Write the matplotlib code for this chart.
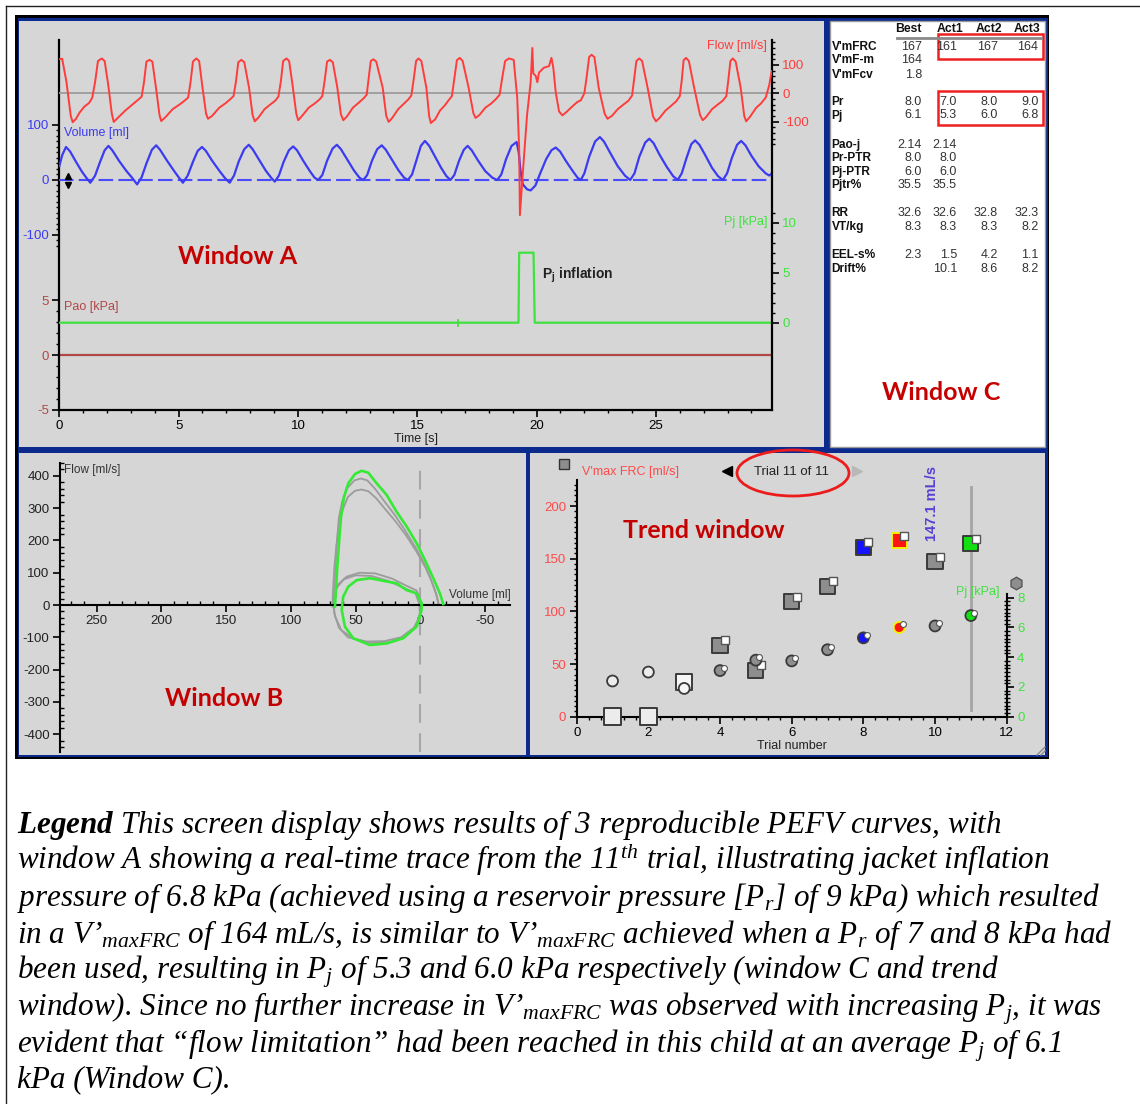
import numpy as np
import matplotlib
matplotlib.use("Agg")
import matplotlib.pyplot as plt
from matplotlib import transforms, font_manager
from matplotlib.patches import Rectangle, Ellipse

# ---------------------------------------------------------------- fonts
_names = {f.name for f in font_manager.fontManager.ttflist}
SANS = "Liberation Sans"
NARROW = "Liberation Sans Narrow" if "Liberation Sans Narrow" in _names else "Liberation Sans"
SERIF = "Liberation Serif"
HEAD = "Lato"
plt.rcParams["font.family"] = [SANS, "DejaVu Sans"]
plt.rcParams["axes.unicode_minus"] = False
plt.rcParams["mathtext.fontset"] = "custom"
plt.rcParams["mathtext.rm"] = "Liberation Serif:italic"
plt.rcParams["mathtext.it"] = "Liberation Serif:italic"
plt.rcParams["mathtext.bf"] = "Liberation Serif:italic:bold"
plt.rcParams["mathtext.sf"] = "Liberation Sans:bold"

# ---------------------------------------------------------------- data
# Window A: real-time traces of trial 11
T_END = 29.85
flow_t = [0.00, 0.12, 0.30, 0.48, 0.56, 0.70, 0.85, 1.05, 1.25, 1.38, 1.50, 1.62, 1.78, 1.90,
          2.05, 2.20, 2.28, 2.45, 2.75, 3.05, 3.30, 3.45, 3.55, 3.65, 3.78, 3.90,
          4.05, 4.20, 4.27, 4.45, 4.75, 5.05, 5.25, 5.40, 5.50, 5.60, 5.74, 5.86,
          6.00, 6.15, 6.23, 6.40, 6.70, 6.95, 7.15, 7.30, 7.40, 7.50, 7.63, 7.75,
          7.95, 8.10, 8.19, 8.35, 8.60, 8.85, 9.05, 9.18, 9.28, 9.38, 9.52, 9.63,
          9.78, 9.93, 10.01, 10.20, 10.45, 10.70, 10.90, 11.02, 11.12, 11.22, 11.34, 11.46,
          11.65, 11.80, 11.90, 12.05, 12.30, 12.55, 12.75, 12.88, 12.96, 13.05, 13.16, 13.28,
          13.55, 13.70, 13.80, 13.95, 14.20, 14.45, 14.62, 14.75, 14.85, 14.95, 15.05, 15.17,
          15.38, 15.50, 15.57, 15.75, 15.95, 16.15, 16.30, 16.45, 16.55, 16.66, 16.78, 16.90,
          17.15, 17.35, 17.44, 17.60, 17.85, 18.10, 18.30, 18.45, 18.55, 18.68, 18.84, 19.04,
          19.19, 19.27, 19.30, 19.40, 19.60, 19.75, 19.82, 19.86, 19.96, 20.03, 20.10, 20.30,
          20.52, 20.62, 20.70, 20.80, 20.94, 21.08,
          21.25, 21.50, 21.70, 21.85, 22.00, 22.10, 22.20, 22.30, 22.42,
          22.60, 22.85, 22.97, 23.15, 23.40, 23.65, 23.85, 24.00, 24.08, 24.18, 24.30, 24.42,
          24.65, 24.88, 25.00, 25.15, 25.40, 25.65, 25.85, 26.00, 26.08, 26.16, 26.26, 26.38,
          26.60, 26.85, 26.96, 27.10, 27.35, 27.60, 27.80, 27.95, 28.03, 28.12, 28.22, 28.34,
          28.55, 28.70, 28.78, 28.95, 29.20, 29.40, 29.60, 29.75, 29.85]
flow_v = [120, 122, 40, -80, -102, -90, -68, -47, -34, -16, 40, 114, 123, 114,
          30, -72, -101, -87, -62, -41, -23, -12, 40, 112, 118, 112,
          20, -77, -98, -84, -56, -39, -26, -15, 40, 112, 123, 114,
          20, -72, -90, -80, -51, -36, -22, -10, 40, 110, 118, 110,
          20, -77, -99, -85, -56, -39, -26, -12, 40, 114, 123, 114,
          25, -72, -95, -77, -51, -36, -22, -10, 45, 112, 118, 110,
          20, -74, -95, -82, -51, -33, -18, -5, 50, 114, 120, 112,
          20, -80, -101, -87, -56, -36, -22, -8, 50, 114, 123, 114,
          20, -82, -105, -92, -61, -43, -26, -10, 50, 117, 125, 114,
          20, -70, -87, -77, -51, -36, -20, -5, 50, 114, 123, 118,
          -18, -200, -430, -306, -76, 39, 160, 70, 62, 39, 73, 90,
          96, 125, 90, 4, -64, -78,
          -66, -46, -31, -25, 0, 60, 128, 136, 128,
          20, -72, -90, -80, -56, -39, -26, -8, 45, 114, 123, 114,
          20, -82, -99, -87, -61, -43, -28, -10, 45, 117, 125, 114,
          20, -77, -95, -84, -56, -39, -26, -10, 45, 114, 123, 112,
          20, -80, -99, -82, -51, -36, -15, 30, 79]

vol_t = [0.00, 0.12, 0.28, 0.45, 0.70, 0.95, 1.15, 1.30,
         1.50, 1.70, 1.90, 2.06, 2.22, 2.50, 2.80, 3.05, 3.26,
         3.45, 3.65, 3.88, 4.06, 4.22, 4.50, 4.80, 5.00, 5.18,
         5.38, 5.60, 5.80, 5.98, 6.14, 6.42, 6.72, 6.95, 7.14,
         7.32, 7.52, 7.75, 7.94, 8.10, 8.38, 8.65, 8.88, 9.03,
         9.20, 9.40, 9.62, 9.80, 9.96, 10.22, 10.50, 10.70, 10.85,
         11.02, 11.22, 11.45, 11.63, 11.80, 12.08, 12.35, 12.58, 12.74,
         12.90, 13.10, 13.32, 13.51, 13.68, 13.95, 14.22, 14.45, 14.61,
         14.78, 14.98, 15.15, 15.32, 15.50, 15.75, 16.00, 16.22, 16.39,
         16.55, 16.75, 16.95, 17.11, 17.28, 17.55, 17.85, 18.15, 18.35,
         18.52, 18.72, 18.95, 19.16, 19.25, 19.33, 19.42, 19.60, 19.75,
         19.95, 20.15, 20.40, 20.62, 20.80, 20.98, 21.25, 21.55, 21.72, 21.85,
         22.00, 22.20, 22.45, 22.65, 22.82, 23.10, 23.40, 23.70, 23.92,
         24.10, 24.30, 24.55, 24.72, 24.90, 25.15, 25.45, 25.72, 25.91,
         26.08, 26.28, 26.48, 26.64, 26.82, 27.08, 27.35, 27.60, 27.80,
         27.98, 28.18, 28.40, 28.57, 28.75, 29.00, 29.30, 29.60, 29.75, 29.85]
vol_v = [25, 45, 60, 52, 33, 15, 3, -5,
         8, 32, 54, 62, 54, 35, 17, 4, -8,
         5, 30, 55, 63, 55, 36, 17, 5, -5,
         8, 33, 53, 60, 53, 34, 16, 3, -5,
         8, 34, 56, 64, 56, 36, 17, 4, -3,
         8, 33, 54, 61, 54, 35, 16, 4, 0,
         9, 35, 57, 64, 56, 36, 17, 4, 0,
         9, 35, 56, 63, 55, 36, 17, 4, 0,
         10, 38, 62, 71, 62, 42, 22, 7, 0,
         9, 35, 55, 62, 54, 35, 16, 4, 0,
         10, 38, 62, 69, 50, 15, -8, -17, -19,
         -10, 12, 38, 54, 59, 52, 33, 14, 4, 0,
         12, 42, 70, 78, 70, 48, 25, 8, 0,
         12, 42, 68, 75, 67, 46, 24, 7, 0,
         12, 40, 65, 72, 64, 44, 22, 7, 0,
         12, 40, 64, 71, 63, 44, 25, 12, 8, 12]

pj_t = [0.0, 19.24, 19.27, 19.87, 19.92, T_END]
pj_v = [0.0, 0.0, 7.0, 7.0, 0.0, 0.0]
pj_event_t = [16.7]
pao_t = [0.0, T_END]
pao_v = [0.0, 0.0]

# Window B: flow-volume loops (volume ml, flow ml/s)
green_forced_vol = [66, 65.2, 64.2, 62.9, 61.3, 59, 55.7, 50.5, 45.4, 40.3, 33.8, 26.1, 18.4,
                    10.6, 2.9, -3.5, -9.9, -15, -17.6]
green_forced_flow = [-5, 46, 119, 191, 274, 335, 377, 406, 416, 410, 377, 341, 289,
                     243, 191, 139, 83, 36, 3]
green_tidal_vol = [-0.9, 2.9, 10.6, 18.4, 39, 49.2, 55.7, 59.6, 60.8, 58.3, 51.9, 39, 26.1,
                   13.3, 2.9, -0.9, -0.9]
green_tidal_flow = [5, 36, 46, 67, 83, 77, 57, 26, -15, -67, -103, -124, -119,
                    -103, -67, -15, 5]
gray_forced_a_vol = [67, 66.5, 65.5, 64.5, 63, 60.5, 56.5, 51, 46, 41, 35, 28, 20, 12, 4, -3, -8, -12, -14]
gray_forced_a_flow = [-5, 50, 125, 195, 270, 320, 362, 386, 392, 386, 360, 322, 280, 232, 180, 128, 80, 35, 3]
gray_forced_b_vol = [68, 67.5, 66.5, 65, 63, 60, 56, 50.5, 45.4, 40, 34, 27, 19, 11, 3, -4, -9, -12.5, -14]
gray_forced_b_flow = [-5, 45, 115, 180, 245, 295, 335, 354, 358, 352, 330, 296, 258, 215, 165, 115, 70, 30, 2]
gray_tidal_a_vol = [-1, 3, 12, 22, 35, 47, 57, 64, 67, 66.5, 63, 56, 42, 28, 15, 5, 0, -1]
gray_tidal_a_flow = [5, 45, 62, 82, 98, 100, 88, 62, 20, -25, -70, -100, -113, -112, -100, -70, -30, 5]
gray_tidal_b_vol = [1, 4, 14, 25, 38, 50, 59, 65, 67.5, 66, 61, 52, 38, 24, 12, 3, 0.5, 1]
gray_tidal_b_flow = [5, 38, 55, 75, 90, 92, 80, 52, 10, -35, -78, -104, -118, -115, -100, -65, -25, 5]

# Trend window
trial_no = [1, 2, 3, 4, 5, 6, 7, 8, 9, 10, 11]
vmax_frc = [0, 0, 33, 68, 44, 109, 124, 161, 167, 147.1, 164]
pj_trial = [2.4, 3.0, 1.9, 3.1, 3.8, 3.75, 4.5, 5.3, 6.0, 6.1, 6.8]
CURRENT_TRIAL = 11
current_value_label = "147.1 mL/s"

# Window C table
col_heads = ["Best", "Act1", "Act2", "Act3"]
row_names = ["V'mFRC", "V'mF-m", "V'mFcv", "Pr", "Pj", "Pao-j", "Pr-PTR", "Pj-PTR",
             "Pjtr%", "RR", "VT/kg", "EEL-s%", "Drift%"]
table_vals = [["167", "161", "167", "164"],
              ["164", "", "", ""],
              ["1.8", "", "", ""],
              ["8.0", "7.0", "8.0", "9.0"],
              ["6.1", "5.3", "6.0", "6.8"],
              ["2.14", "2.14", "", ""],
              ["8.0", "8.0", "", ""],
              ["6.0", "6.0", "", ""],
              ["35.5", "35.5", "", ""],
              ["32.6", "32.6", "32.8", "32.3"],
              ["8.3", "8.3", "8.3", "8.2"],
              ["2.3", "1.5", "4.2", "1.1"],
              ["", "10.1", "8.6", "8.2"]]

caption_lines = [
    r"$\mathbf{Legend}$ This screen display shows results of 3 reproducible PEFV curves, with",
    r"window A showing a real-time trace from the 11$^{th}$ trial, illustrating jacket inflation",
    r"pressure of 6.8 kPa (achieved using a reservoir pressure [P$_r$] of 9 kPa) which resulted",
    r"in a V’$_{maxFRC}$ of 164 mL/s, is similar to V’$_{maxFRC}$ achieved when a P$_r$ of 7 and 8 kPa had",
    r"been used, resulting in P$_j$ of 5.3 and 6.0 kPa respectively (window C and trend",
    r"window). Since no further increase in V’$_{maxFRC}$ was observed with increasing P$_j$, it was",
    r"evident that “flow limitation” had been reached in this child at an average P$_j$ of 6.1",
    r"kPa (Window C).",
]

# ---------------------------------------------------------------- colours
PANEL = "#d6d6d6"
NAVY = "#0c2a8e"
FLOW_C = "#ff3c3c"
VOL_C = "#3b3bf2"
PAO_C = "#b04848"
PJ_C = "#3fe23f"
LBL_RED = "#ff4a4a"
TITLE_RED = "#c40000"

W, H = 1140, 1104
fig = plt.figure(figsize=(W / 100, H / 100), dpi=100)


def rect(x0, y0, x1, y1):
    return [x0 / W, 1 - y1 / H, (x1 - x0) / W, (y1 - y0) / H]


def overlay(z):
    ax = fig.add_axes([0, 0, 1, 1], zorder=z)
    ax.set_xlim(0, W)
    ax.set_ylim(H, 0)
    ax.axis("off")
    return ax


bg = overlay(0)
fg = overlay(30)

# screen frame and panels
bg.plot([6, 6], [6, H], color="#222", lw=1)
bg.plot([6, W], [6, 6], color="#222", lw=1)
bg.add_patch(Rectangle((15, 15), 1034, 744, fc="black", ec="none"))
bg.add_patch(Rectangle((17.5, 18), 1030, 738.5, fc=NAVY, ec="none"))
bg.add_patch(Rectangle((19, 21), 805, 426, fc=PANEL, ec="none"))
bg.add_patch(Rectangle((830, 21), 215, 426, fc="white", ec="#9a9a9a", lw=1))
bg.add_patch(Rectangle((19, 452.5), 507, 302.5, fc=PANEL, ec="none"))
bg.add_patch(Rectangle((530, 452.5), 515, 302.5, fc=PANEL, ec="none"))


def txt(ax, x, y, s, size=9, color="black", family=NARROW, weight="normal", **kw):
    ax.text(x, y, s, fontsize=size, color=color, family=family, fontweight=weight, **kw)


# ================================================================ Window A
rA = rect(59.3, 40, 771.7, 410)

axA = fig.add_axes(rA, zorder=5)
axA.patch.set_alpha(0)
axA.set_xlim(0, T_END)
axA.set_ylim(-5, 28.64)
for s in ("top", "right"):
    axA.spines[s].set_visible(False)
for s in ("left", "bottom"):
    axA.spines[s].set_linewidth(1.6)
axA.set_xticks(range(0, 30, 5))
axA.set_xticks(range(0, 30), minor=True)
axA.set_yticks([-5, 0, 5])
axA.set_yticks(range(-5, 6), minor=True)
axA.tick_params(which="major", length=5, width=1.2, labelsize=9.5, pad=2.5)
axA.tick_params(which="minor", length=2.5, width=1)
axA.tick_params(axis="y", labelcolor=PAO_C)
axA.plot(pao_t, pao_v, color=PAO_C, lw=1.6, zorder=2)

axP = fig.add_axes(rA, zorder=6)
axP.patch.set_alpha(0)
axP.set_xlim(0, T_END)
axP.set_ylim(-8.73, 28.27)
for s in axP.spines.values():
    s.set_visible(False)
axP.set_xticks([])
axP.yaxis.tick_right()
axP.set_yticks([0, 5, 10])
axP.set_yticks(range(0, 12), minor=True)
axP.tick_params(axis="y", which="major", length=5, width=1.2, labelsize=9.5, labelcolor=PJ_C, pad=2.5)
axP.tick_params(axis="y", which="minor", length=2.5, width=1)
axP.plot(pj_t, pj_v, color=PJ_C, lw=1.6)
axP.plot(pj_event_t, [0] * len(pj_event_t), marker="|", ms=6, mew=1.2, color=PJ_C, ls="none")

axV = fig.add_axes(rA, zorder=7)
axV.patch.set_alpha(0)
axV.set_xlim(0, T_END)
axV.set_ylim(-418.2, 254.5)
for s in axV.spines.values():
    s.set_visible(False)
axV.set_xticks([])
axV.set_yticks([-100, 0, 100])
axV.set_yticks(range(-120, 101, 10), minor=True)
axV.tick_params(axis="y", which="major", length=5, width=1.2, labelsize=9.5, labelcolor=VOL_C, pad=2.5)
axV.tick_params(axis="y", which="minor", length=2.5, width=1)
axV.axhline(0, color="#4a4aff", lw=1.5, dashes=(7, 2.5))
axV.plot(vol_t, vol_v, color=VOL_C, lw=1.6)

axF = fig.add_axes(rA, zorder=8)
axF.patch.set_alpha(0)
axF.set_xlim(0, T_END)
axF.set_ylim(-1117.8, 188.1)
for s in ("top", "left", "bottom"):
    axF.spines[s].set_visible(False)
axF.spines["right"].set_linewidth(1.6)
axF.set_xticks([])
axF.yaxis.tick_right()
axF.set_yticks([-100, 0, 100])
axF.set_yticks(range(-180, 181, 20), minor=True)
axF.tick_params(axis="y", which="major", length=5, width=1.2, labelsize=9.5, labelcolor=FLOW_C, pad=2.5)
axF.tick_params(axis="y", which="minor", length=2.5, width=1)
axF.axhline(0, color="#9c9c9c", lw=1.3, zorder=1)
axF.plot(flow_t, flow_v, color=FLOW_C, lw=1.4, zorder=3)

txt(fg, 767, 46.5, "Flow [ml/s]", 9, FLOW_C, ha="right", va="center")
txt(fg, 64, 133, "Volume [ml]", 9, VOL_C, ha="left", va="center")
txt(fg, 64, 307, "Pao [kPa]", 9, PAO_C, ha="left", va="center")
txt(fg, 767, 222, "Pj [kPa]", 9, PJ_C, ha="right", va="center")
txt(fg, 416, 439, "Time [s]", 9, "#222", ha="center", va="center")
txt(fg, 238, 257, "Window A", 18, TITLE_RED, family=HEAD, weight="bold", ha="center", va="center")
fg.text(542, 275, r"$\mathsf{P_j}$ inflation", fontsize=10, family=SANS, fontweight="bold",
        color="#222", ha="left", va="center")
fg.plot([67.7], [176], marker="^", ms=5, color="black")
fg.plot([67.7], [184.5], marker="v", ms=5, color="black")

# ================================================================ Window C
hdr_x = [922, 963, 1002, 1040]
val_x = [922, 957, 998, 1038.5]
row_y = [46.7, 60, 74.5, 102.3, 115.5, 145, 158.3, 171.7, 185, 213.3, 226.7, 255, 269]
for hx, h in zip(hdr_x, col_heads):
    txt(fg, hx, 29, h, 8.8, "#111", family=SANS, weight="bold", ha="right", va="center")
fg.plot([897, 1041], [37.7, 37.7], color="#8a8a8a", lw=2)
for ry, name, vals in zip(row_y, row_names, table_vals):
    txt(fg, 831.5, ry, name, 8.6, "#111", family=SANS, weight="bold", ha="left", va="center")
    for vx, v in zip(val_x, vals):
        if v:
            txt(fg, vx, ry, v, 9, "#333", ha="right", va="center")
fg.add_patch(Rectangle((937.7, 34.3), 105.6, 24.7, fill=False, ec="#ee2020", lw=1.8))
fg.add_patch(Rectangle((938.3, 91), 105, 34, fill=False, ec="#ee2020", lw=1.8))
txt(fg, 941, 392, "Window C", 18, TITLE_RED, family=HEAD, weight="bold", ha="center", va="center")

# ================================================================ Window B
axB = fig.add_axes(rect(60, 463, 510, 751.7), zorder=5)
axB.patch.set_alpha(0)
axB.set_xlim(278.2, -69.1)
axB.set_ylim(-454.5, 440)
for s in ("top", "right"):
    axB.spines[s].set_visible(False)
axB.spines["bottom"].set_position(("data", 0))
axB.spines["left"].set_linewidth(1.5)
axB.spines["bottom"].set_linewidth(1.5)
axB.set_xticks([250, 200, 150, 100, 50, 0, -50])
axB.set_xticks(range(-60, 271, 10), minor=True)
axB.set_yticks(range(-400, 401, 100))
axB.set_yticks(range(-440, 441, 20), minor=True)
axB.tick_params(which="major", length=5, width=1.2, labelsize=9.5, pad=2.5, labelcolor="#222")
axB.tick_params(which="minor", length=3, width=1, direction="in")
for lab in axB.get_xticklabels() + axB.get_yticklabels():
    lab.set_family(NARROW)
axB.axvline(0, color="#a6a6a6", lw=1.5, dashes=(9, 5), zorder=1)
for v, f in ((gray_tidal_a_vol, gray_tidal_a_flow), (gray_tidal_b_vol, gray_tidal_b_flow),
             (gray_forced_a_vol, gray_forced_a_flow), (gray_forced_b_vol, gray_forced_b_flow)):
    axB.plot(v, f, color="#9c9c9c", lw=1.3, zorder=2)
axB.plot(green_tidal_vol, green_tidal_flow, color="#34ea34", lw=1.9, zorder=3)
axB.plot(green_forced_vol, green_forced_flow, color="#34ea34", lw=1.9, zorder=3)
txt(fg, 64.5, 470.5, "Flow [ml/s]", 8.5, "#333", ha="left", va="center")
txt(fg, 511, 595, "Volume [ml]", 8.5, "#333", ha="right", va="center")
txt(fg, 224, 698, "Window B", 18, TITLE_RED, family=HEAD, weight="bold", ha="center", va="center")

# ================================================================ Trend window
rT = rect(576.7, 480, 1006.7, 716.7)
axT = fig.add_axes(rT, zorder=5)
axT.patch.set_alpha(0)
axT.set_xlim(0, 12)
axT.set_ylim(0, 224.7)
for s in ("top", "right"):
    axT.spines[s].set_visible(False)
axT.spines["left"].set_linewidth(1.5)
axT.spines["bottom"].set_linewidth(1.5)
axT.set_xticks(range(0, 13, 2))
axT.set_xticks(np.arange(0, 12.01, 1 / 3), minor=True)
axT.set_yticks(range(0, 201, 50))
axT.set_yticks(range(0, 221, 5), minor=True)
axT.tick_params(which="major", length=5, width=1.2, labelsize=9, pad=2.5)
axT.tick_params(which="minor", length=2.5, width=1)
axT.tick_params(axis="y", labelcolor=LBL_RED)
for lab in axT.get_xticklabels() + axT.get_yticklabels():
    lab.set_family(NARROW)
    lab.set_fontsize(9.5)

axTP = fig.add_axes(rT, zorder=6)
axTP.patch.set_alpha(0)
axTP.set_xlim(0, 12)
axTP.set_ylim(0, 15.91)
for s in ("top", "left", "bottom"):
    axTP.spines[s].set_visible(False)
axTP.spines["right"].set_linewidth(1.5)
axTP.spines["right"].set_bounds(0, 8.25)
axTP.set_xticks([])
axTP.yaxis.tick_right()
axTP.set_yticks(range(0, 9, 2))
axTP.set_yticks(np.arange(0, 8.01, 0.25), minor=True)
axTP.tick_params(axis="y", which="major", length=5, width=1.2, labelsize=9.5, labelcolor=PJ_C, pad=2.5)
axTP.tick_params(axis="y", which="minor", length=4, width=1, direction="inout")
for lab in axTP.get_yticklabels():
    lab.set_family(NARROW)

# cursor at the current trial
axT.plot([CURRENT_TRIAL, CURRENT_TRIAL], [6, 218], color="#a4a4a4", lw=2, zorder=1)

GRAY_M = "#8e8e8e"
EDGE = "#3a3a3a"
face = ["#ececec", "#ececec", "#f6f6f6", GRAY_M, GRAY_M, GRAY_M, GRAY_M,
        "#1414ff", "#ff1414", GRAY_M, "#12e012"]
edge = [EDGE] * 8 + ["#f2f200", EDGE, EDGE]
inset = [False, False, False] + [True] * 8
sq_size = [150, 150, 140] + [118] * 8

sq_off = transforms.offset_copy(axT.transData, fig=fig, x=5, y=5, units="dots")
ci_off = transforms.offset_copy(axTP.transData, fig=fig, x=3.5, y=3, units="dots")

axT.scatter(trial_no, vmax_frc, s=sq_size, marker="s", c=face, edgecolors=edge,
            linewidths=1.4, zorder=3, clip_on=False)
ins_t = [t for t, f in zip(trial_no, inset) if f]
axT.scatter(ins_t, [v for v, f in zip(vmax_frc, inset) if f], s=26, marker="s", c="white",
            edgecolors="#555", linewidths=1, zorder=4, transform=sq_off, clip_on=False)
axTP.scatter(trial_no, pj_trial, s=62, marker="o", c=face, edgecolors=edge,
             linewidths=1.3, zorder=3, clip_on=False)
axTP.scatter(ins_t, [p for p, f in zip(pj_trial, inset) if f], s=18, marker="o", c="white",
             edgecolors="#555", linewidths=0.8, zorder=4, transform=ci_off, clip_on=False)

axT.text(9.92, 202, current_value_label, rotation=90, ha="center", va="center",
         fontsize=10.5, fontweight="bold", color="#5a3fd4", family=SANS)

txt(fg, 582, 472.5, "V'max FRC [ml/s]", 9, LBL_RED, ha="left", va="center")
txt(fg, 1000, 591.5, "Pj [kPa]", 9, PJ_C, ha="right", va="center")
txt(fg, 792, 746, "Trial number", 9, "#222", ha="center", va="center")
txt(fg, 791, 472, "Trial 11 of 11", 9.5, "#222", ha="center", va="center")
txt(fg, 703.5, 531, "Trend window", 18, TITLE_RED, family=HEAD, weight="bold", ha="center", va="center")
fg.plot([726.7], [470.7], marker="<", ms=7, color="black")
fg.plot([856.7], [470.7], marker=">", ms=7, color="#b8b8b8")
fg.add_patch(Rectangle((558.5, 459), 10, 10, fc=GRAY_M, ec="#333", lw=1))
fg.plot([1016], [583], marker="h", ms=9, mfc=GRAY_M, mec="#555")
fg.add_patch(Ellipse((793, 473), 112, 46, fill=False, ec="#ec1c1c", lw=2))
for d in (4, 8):
    fg.plot([1045 - d, 1045], [755, 755 - d], color="#8a8a8a", lw=1)

# ================================================================ caption
baselines = [833, 869.5, 906, 942.5, 979, 1015.5, 1052, 1088.5]
for y, line in zip(baselines, caption_lines):
    fg.text(17, y, line, fontsize=22.4, family=SERIF, style="italic",
            ha="left", va="baseline", color="black")

fig.savefig("out.png", dpi=100)
